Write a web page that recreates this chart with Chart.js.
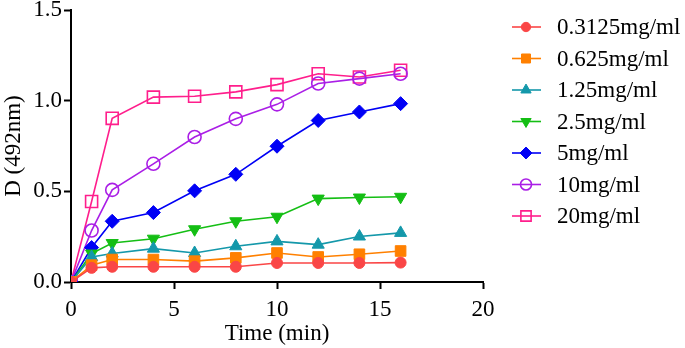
<!DOCTYPE html>
<html>
<head>
<meta charset="utf-8">
<script src="https://cdn.jsdelivr.net/npm/chart.js@4/dist/chart.umd.min.js"></script>
<style>
    html, body { margin: 0; padding: 0; background: #fff; }
    #wrap { width: 685px; height: 348px; position: relative; }
</style>
</head>
<body>
<div id="wrap"><canvas id="kineticsChart"></canvas></div>
<script>
var times = [0, 1, 2, 4, 6, 8, 10, 12, 14, 16];
var seriesNames = ['0.3125mg/ml', '0.625mg/ml', '1.25mg/ml', '2.5mg/ml', '5mg/ml', '10mg/ml', '20mg/ml'];
var conc03125 = [0, 0.078, 0.084, 0.084, 0.084, 0.084, 0.105, 0.105, 0.105, 0.107];
var conc0625 = [0, 0.093, 0.124, 0.124, 0.115, 0.133, 0.160, 0.138, 0.153, 0.171];
var conc125 = [0, 0.138, 0.157, 0.184, 0.160, 0.197, 0.224, 0.206, 0.251, 0.271];
var conc25 = [0, 0.157, 0.215, 0.239, 0.291, 0.335, 0.360, 0.460, 0.466, 0.470];
var conc5 = [0, 0.190, 0.335, 0.383, 0.503, 0.594, 0.749, 0.891, 0.938, 0.984];
var conc10 = [0, 0.284, 0.508, 0.652, 0.800, 0.900, 0.980, 1.095, 1.122, 1.149];
var conc20 = [0, 0.444, 0.903, 1.020, 1.025, 1.049, 1.089, 1.149, 1.131, 1.168];
var xTicks = [0, 5, 10, 15, 20];
var yTicks = [0.0, 0.5, 1.0, 1.5];

var fontFamily = '"Liberation Serif", "Times New Roman", serif';

var styles = [
    { color: 'rgb(250, 70, 70)', point: 'circle', radius: 5.5, rotation: 0, filled: true },
    { color: 'rgb(255, 128, 0)', point: 'rect', radius: 7.5, rotation: 0, filled: true },
    { color: 'rgb(20, 152, 170)', point: 'triangle', radius: 7, rotation: 0, filled: true },
    { color: 'rgb(20, 190, 20)', point: 'triangle', radius: 7, rotation: 180, filled: true },
    { color: 'rgb(0, 0, 245)', point: 'rectRot', radius: 7, rotation: 0, filled: true },
    { color: 'rgb(170, 30, 230)', point: 'circle', radius: 6.5, rotation: 0, filled: false },
    { color: 'rgb(255, 30, 140)', point: 'rect', radius: 8.5, rotation: 0, filled: false }
];

var values = [conc03125, conc0625, conc125, conc25, conc5, conc10, conc20];

var datasets = values.map(function (vals, i) {
    var s = styles[i];
    return {
        label: seriesNames[i],
        data: times.map(function (t, j) { return { x: t, y: vals[j] }; }),
        borderColor: s.color,
        borderWidth: 1.6,
        pointStyle: s.point,
        pointRadius: s.radius,
        pointRotation: s.rotation,
        pointBackgroundColor: s.filled ? s.color : 'rgba(255,255,255,0)',
        pointBorderColor: s.color,
        pointBorderWidth: s.filled ? 1 : 1.6,
        tension: 0,
        fill: false
    };
});

// legend on the right: short line with the marker in the middle, then the label
var sideLegend = {
    id: 'sideLegend',
    afterDraw: function (chart) {
        var ctx = chart.ctx;
        ctx.save();
        chart.data.datasets.forEach(function (ds, i) {
            var y = 27 + i * 31.5;
            ctx.strokeStyle = ds.borderColor;
            ctx.lineWidth = 1.6;
            ctx.beginPath();
            ctx.moveTo(512, y);
            ctx.lineTo(541, y);
            ctx.stroke();
            ctx.fillStyle = ds.pointBackgroundColor;
            ctx.strokeStyle = ds.pointBorderColor;
            ctx.lineWidth = ds.pointBorderWidth;
            Chart.helpers.drawPoint(ctx, {
                pointStyle: ds.pointStyle,
                rotation: ds.pointRotation,
                radius: ds.pointRadius * 0.85,
                borderWidth: ds.pointBorderWidth
            }, 526, y);
            ctx.fillStyle = '#000';
            ctx.font = '23px ' + fontFamily;
            ctx.textBaseline = 'middle';
            ctx.textAlign = 'left';
            ctx.fillText(ds.label, 557, y + 1);
        });
        ctx.restore();
    }
};

var ctx = document.getElementById('kineticsChart').getContext('2d');
var kineticsChart = new Chart(ctx, {
    type: 'line',
    data: { datasets: datasets },
    options: {
        responsive: true,
        maintainAspectRatio: false,
        animation: false,
        layout: { padding: { top: 8, right: 202, left: 0, bottom: 0 } },
        plugins: {
            legend: { display: false },
            tooltip: { enabled: false }
        },
        scales: {
            x: {
                type: 'linear',
                min: 0,
                max: 20,
                afterBuildTicks: function (scale) {
                    scale.ticks = xTicks.map(function (v) { return { value: v }; });
                },
                afterFit: function (scale) { scale.height = 66; },
                grid: {
                    drawOnChartArea: false,
                    drawTicks: true,
                    tickLength: 7,
                    tickWidth: 2,
                    tickColor: '#000'
                },
                border: { display: true, color: '#000', width: 2 },
                ticks: {
                    color: '#000',
                    padding: 7,
                    maxRotation: 0,
                    font: { family: fontFamily, size: 23 }
                },
                title: {
                    display: true,
                    text: 'Time (min)',
                    color: '#000',
                    padding: { top: 0, bottom: 0 },
                    font: { family: fontFamily, size: 23 }
                }
            },
            y: {
                min: 0,
                max: 1.5,
                afterBuildTicks: function (scale) {
                    scale.ticks = yTicks.map(function (v) { return { value: v }; });
                },
                afterFit: function (scale) {
                    scale.width = 71;
                    scale.paddingTop = 0;
                    scale.paddingBottom = 0;
                },
                grid: {
                    drawOnChartArea: false,
                    drawTicks: true,
                    tickLength: 7,
                    tickWidth: 2,
                    tickColor: '#000'
                },
                border: { display: true, color: '#000', width: 2 },
                ticks: {
                    color: '#000',
                    padding: 2,
                    font: { family: fontFamily, size: 23 },
                    callback: function (v) { return Number(v).toFixed(1); }
                },
                title: {
                    display: true,
                    text: 'D (492nm)',
                    color: '#000',
                    padding: { top: 0, bottom: 0 },
                    font: { family: fontFamily, size: 23 }
                }
            }
        }
    },
    plugins: [sideLegend]
});
</script>
</body>
</html>
